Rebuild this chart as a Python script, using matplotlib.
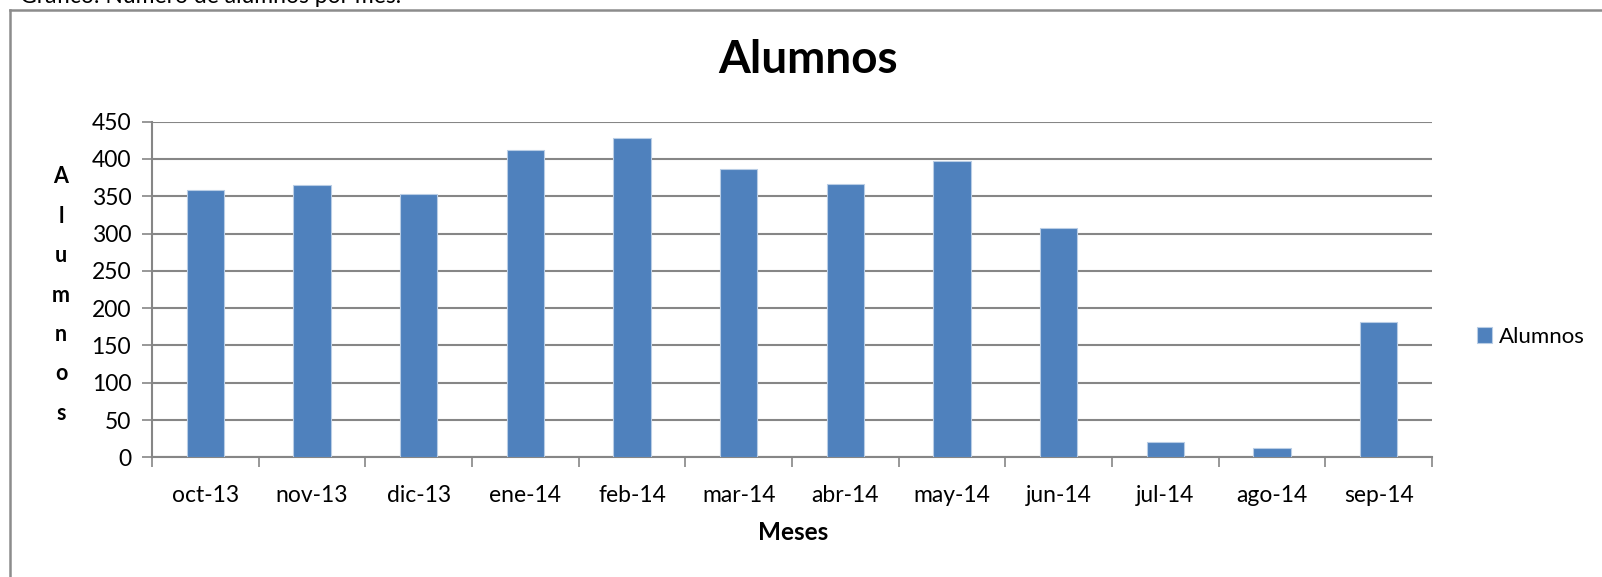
import matplotlib
matplotlib.use("Agg")
import matplotlib.pyplot as plt
import numpy as np

# Number of students per month
meses = ["oct-13", "nov-13", "dic-13", "ene-14", "feb-14", "mar-14",
         "abr-14", "may-14", "jun-14", "jul-14", "ago-14", "sep-14"]
alumnos = [359, 365, 353, 412, 428, 387, 366, 397, 307, 21, 12, 182]
y_ticks = [0, 50, 100, 150, 200, 250, 300, 350, 400, 450]

W, H = 1602, 577
plt.rcParams['font.family'] = ['Lato', 'DejaVu Sans']

fig = plt.figure(figsize=(W / 100, H / 100), dpi=100)
ax = fig.add_axes([152 / W, 1 - 457.3 / H, 1280 / W, (457.3 - 121.7) / H])

grey = "#868686"
x = np.arange(len(meses))
ax.bar(x, alumnos, width=0.35, color="#4F81BD", edgecolor="#B9CDE5",
       linewidth=0.8, label="Alumnos", zorder=3)

ax.set_xlim(-0.5, len(meses) - 0.5)
ax.set_ylim(0, 450)
ax.set_yticks(y_ticks)
ax.set_xticks(x)
ax.set_xticklabels(meses)
ax.set_xticks(np.arange(-0.5, len(meses)), minor=True)
ax.tick_params(axis="x", which="major", length=0, pad=20, labelsize=16.5)
ax.tick_params(axis="x", which="minor", length=7, width=1.2, color=grey)
ax.tick_params(axis="y", length=7, width=1.2, color=grey, labelsize=16.5, pad=8)

ax.grid(axis="y", color=grey, linewidth=1.5, zorder=0)
for side in ["top", "right"]:
    ax.spines[side].set_visible(False)
for side in ["left", "bottom"]:
    ax.spines[side].set_color(grey)
    ax.spines[side].set_linewidth(1.5)

# title and axis labels
fig.text(808 / W, 1 - 60 / H, "Alumnos", ha="center", va="center",
         fontsize=33, fontweight="bold")
fig.text(793 / W, 1 - 532 / H, "Meses", ha="center", va="center",
         fontsize=17.5, fontweight="bold")
fig.text(61 / W, 1 - 295 / H, "\n".join("Alumnos"), ha="center", va="center",
         fontsize=15.5, fontweight="bold", linespacing=2.08)

# caption above the chart box, cut at the top edge
fig.text(20 / W, 1 - 3 / H, "Gráfico: Número de alumnos por mes.",
         ha="left", va="baseline", fontsize=16.5)

# chart box border (top and left only visible)
fig.add_artist(plt.Line2D([9.5 / W, 1], [1 - 9.5 / H, 1 - 9.5 / H],
                          color="#8C8C8C", linewidth=1.8))
fig.add_artist(plt.Line2D([9.5 / W, 9.5 / W], [0, 1 - 9.5 / H],
                          color="#8C8C8C", linewidth=1.8))

fig.legend(loc="center left", bbox_to_anchor=(1468 / W, 1 - 337 / H),
           frameon=False, fontsize=16, handlelength=0.7, handleheight=0.7,
           handletextpad=0.3, borderaxespad=0)

fig.savefig("out.png", dpi=100)
